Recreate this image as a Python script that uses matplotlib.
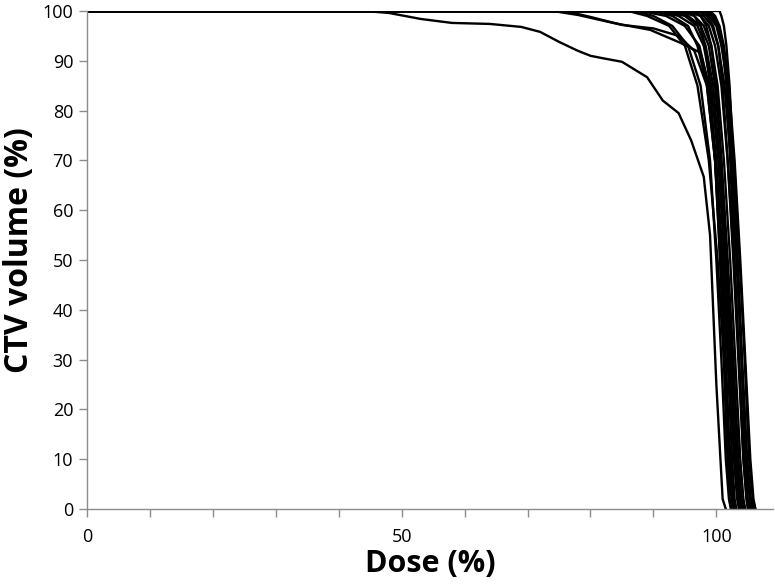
import matplotlib.pyplot as plt
from matplotlib.ticker import MultipleLocator

vol_levels = [100, 100, 99, 97, 93, 85, 70, 50, 30, 10, 2, 0]

# dose (%) of each steep curve at the volume levels above
dose_curves = [
    [0, 87, 90, 93, 95.5, 97.5, 99.0, 100.0, 100.8, 101.5, 102.0, 102.3],
    [0, 86, 89, 92.5, 95, 97, 98.8, 100.2, 101.2, 102.0, 102.6, 103.0],
    [0, 90, 93, 95.5, 97, 98.5, 99.8, 101.0, 102.0, 102.8, 103.3, 103.6],
    [0, 92, 95, 97, 98.3, 99.5, 100.5, 101.5, 102.4, 103.2, 103.7, 104.0],
    [0, 94, 96.5, 98, 99.2, 100.2, 101.2, 102.2, 103.0, 103.8, 104.3, 104.6],
    [0, 95, 97.5, 98.8, 99.8, 100.8, 101.8, 102.8, 103.6, 104.4, 104.9, 105.2],
    [0, 96, 98, 99.3, 100.3, 101.3, 102.3, 103.2, 104.0, 104.8, 105.3, 105.6],
    [0, 97, 98.8, 100, 100.8, 101.8, 102.8, 103.7, 104.5, 105.2, 105.8, 106.2],
    [0, 98, 99.2, 100.2, 101, 101.8, 102.5, 103.3, 104.0, 104.6, 105.0, 105.3],
    [0, 100.5, 100.8, 101.2, 101.6, 102.1, 102.7, 103.4, 104.1, 104.9, 105.5, 105.9],
    [0, 93, 95.5, 97.5, 98.8, 99.8, 100.8, 101.8, 102.7, 103.5, 104.0, 104.3],
    [0, 95.5, 96.5, 97.5, 98.2, 99, 99.8, 100.6, 101.3, 102.0, 102.4, 102.7],
    [0, 96.5, 97.5, 98.4, 99.2, 100, 100.8, 101.7, 102.6, 103.4, 103.9, 104.2],
    [0, 91, 94, 96.5, 98, 99.2, 100.3, 101.3, 102.2, 103, 103.5, 103.8],
    [0, 97.5, 98.5, 99.5, 100.3, 101, 101.8, 102.7, 103.5, 104.3, 104.8, 105.1],
    [0, 99, 99.8, 100.5, 101.2, 102, 102.9, 103.8, 104.6, 105.4, 105.9, 106.2],
    [0, 98.5, 99.5, 100.4, 101, 101.6, 102.2, 102.9, 103.6, 104.3, 104.8, 105.0],
    [0, 88, 92, 95, 97.3, 98.8, 100, 101, 101.8, 102.5, 102.9, 103.2],
]

# two curves with an early shallow shoulder
dose_a = [0, 74, 78, 83.6, 89.5, 94.3, 97.5, 98.8, 99.8, 100.8, 101.6, 102.1, 102.4]
vol_a = [100, 100, 99.2, 97.6, 96.2, 93.6, 91.6, 85, 70, 45, 15, 2, 0]
dose_b = [0, 76, 80, 85, 90, 94, 96.5, 98.5, 99.8, 101, 102, 102.7, 103]
vol_b = [100, 100, 98.8, 97.2, 96.5, 95, 92, 85, 70, 45, 15, 2, 0]

# the outlier curve
dose_out = [0, 44, 48, 53, 58, 64, 69, 72, 75, 78, 80, 82, 85, 89, 91.5, 94,
            96, 98, 99, 100, 101, 101.5]
vol_out = [100, 100, 99.6, 98.4, 97.6, 97.4, 96.8, 95.8, 93.8, 92, 91, 90.5,
           89.8, 86.7, 82, 79.5, 74, 66.7, 55, 25, 2, 0]

plt.rcParams['font.family'] = ['Open Sans', 'DejaVu Sans']

fig = plt.figure(figsize=(7.75, 5.87), dpi=100)
ax = fig.add_axes([0.1123, 0.1329, 0.8851, 0.8484])

for d in dose_curves:
    ax.plot(d, vol_levels, color='black', lw=1.7)
ax.plot(dose_a, vol_a, color='black', lw=1.7)
ax.plot(dose_b, vol_b, color='black', lw=1.7)
ax.plot(dose_out, vol_out, color='black', lw=1.7)

ax.set_xlim(0, 109)
ax.set_ylim(0, 100)
ax.xaxis.set_major_locator(MultipleLocator(50))
ax.xaxis.set_minor_locator(MultipleLocator(10))
ax.yaxis.set_major_locator(MultipleLocator(10))

for s in ['top', 'right']:
    ax.spines[s].set_visible(False)
for s in ['left', 'bottom']:
    ax.spines[s].set_color('#8c8c8c')
    ax.spines[s].set_linewidth(1.0)

ax.tick_params(axis='both', which='both', direction='out', color='#8c8c8c',
               length=6, width=1.0, labelsize=13, pad=4)
ax.tick_params(axis='x', pad=8)

ax.set_xlabel('Dose (%)', fontsize=22, fontweight='bold', labelpad=2)
ax.set_ylabel('CTV volume (%)', fontsize=23, fontweight='bold')
ax.yaxis.set_label_coords(-0.074, 0.52)

fig.savefig('out.png', dpi=100)
